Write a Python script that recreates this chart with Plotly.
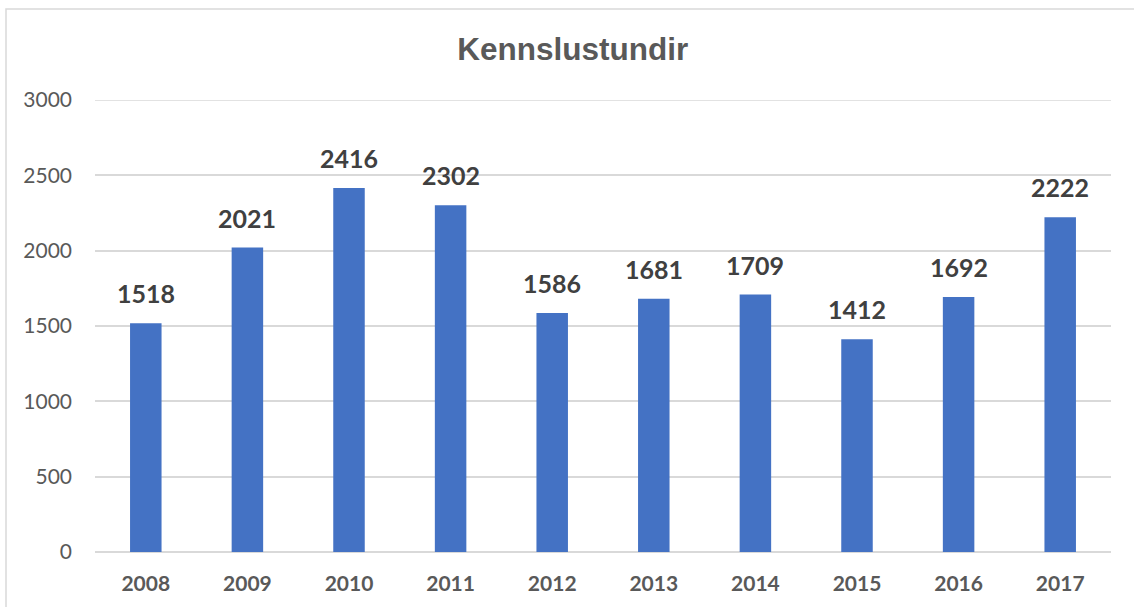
import plotly.graph_objects as go

years = ["2008", "2009", "2010", "2011", "2012", "2013", "2014", "2015", "2016", "2017"]
hours = [1518, 2021, 2416, 2302, 1586, 1681, 1709, 1412, 1692, 2222]
title_text = "Kennslustundir"
y_ticks = [0, 500, 1000, 1500, 2000, 2500, 3000]

W, H = 1134, 607
ML, MR, MT, MB = 95, 23, 100, 55
pw, ph = W - ML - MR, H - MT - MB

fig = go.Figure()
fig.add_trace(go.Bar(
    x=years, y=hours,
    marker=dict(color="#4472C4", line=dict(width=0)),
    hoverinfo="x+y",
))

for i, v in enumerate(hours):
    fig.add_annotation(
        x=i, y=v, xref="x", yref="y", text=str(v), showarrow=False,
        yanchor="bottom", yshift=13,
        font=dict(family="Lato, Carlito, Calibri, sans-serif", size=25, color="#404040", weight="bold"),
    )

# outer chart border
fig.add_shape(
    type="rect", xref="paper", yref="paper",
    x0=(6 - ML) / pw, x1=(W + 20 - ML) / pw,
    y0=-(MB + 20) / ph, y1=1 + (MT - 9) / ph,
    line=dict(color="#d9d9d9", width=1.5), fillcolor="rgba(0,0,0,0)", layer="below",
)
# top gridline (at the range edge)
fig.add_shape(
    type="line", xref="paper", yref="y",
    x0=0, x1=1, y0=y_ticks[-1], y1=y_ticks[-1],
    line=dict(color="#d9d9d9", width=1.5), layer="below",
)

fig.update_layout(
    width=W, height=H,
    margin=dict(l=ML, r=MR, t=MT, b=MB, autoexpand=False),
    paper_bgcolor="white", plot_bgcolor="white",
    showlegend=False,
    title=dict(
        text=title_text,
        x=0.505, xanchor="center", xref="container",
        y=1 - 48.5 / H, yanchor="middle", yref="container",
        font=dict(family="Liberation Sans, Arial, sans-serif", size=31.5, color="#595959", weight="bold"),
    ),
    bargap=0.69,
)
fig.update_yaxes(
    range=[0, 3000], tickvals=y_ticks,
    showgrid=True, gridcolor="#d9d9d9", gridwidth=1.5,
    zeroline=True, zerolinecolor="#d9d9d9", zerolinewidth=1.5,
    showline=False, ticks="",
    ticklabelstandoff=22,
    tickfont=dict(family="Lato, Carlito, Calibri, sans-serif", size=21, color="#595959"),
    fixedrange=True,
)
fig.update_xaxes(
    type="category", categoryorder="array", categoryarray=years,
    range=[-0.5, len(years) - 0.5],
    showgrid=False, showline=False, ticks="",
    ticklabelstandoff=17,
    tickfont=dict(family="Lato, Carlito, Calibri, sans-serif", size=21, color="#595959", weight="bold"),
    fixedrange=True,
)

fig.write_html(
    "out.html",
    config={"displayModeBar": False},
    post_script="document.body.style.margin='0';document.body.style.overflow='hidden';",
)
